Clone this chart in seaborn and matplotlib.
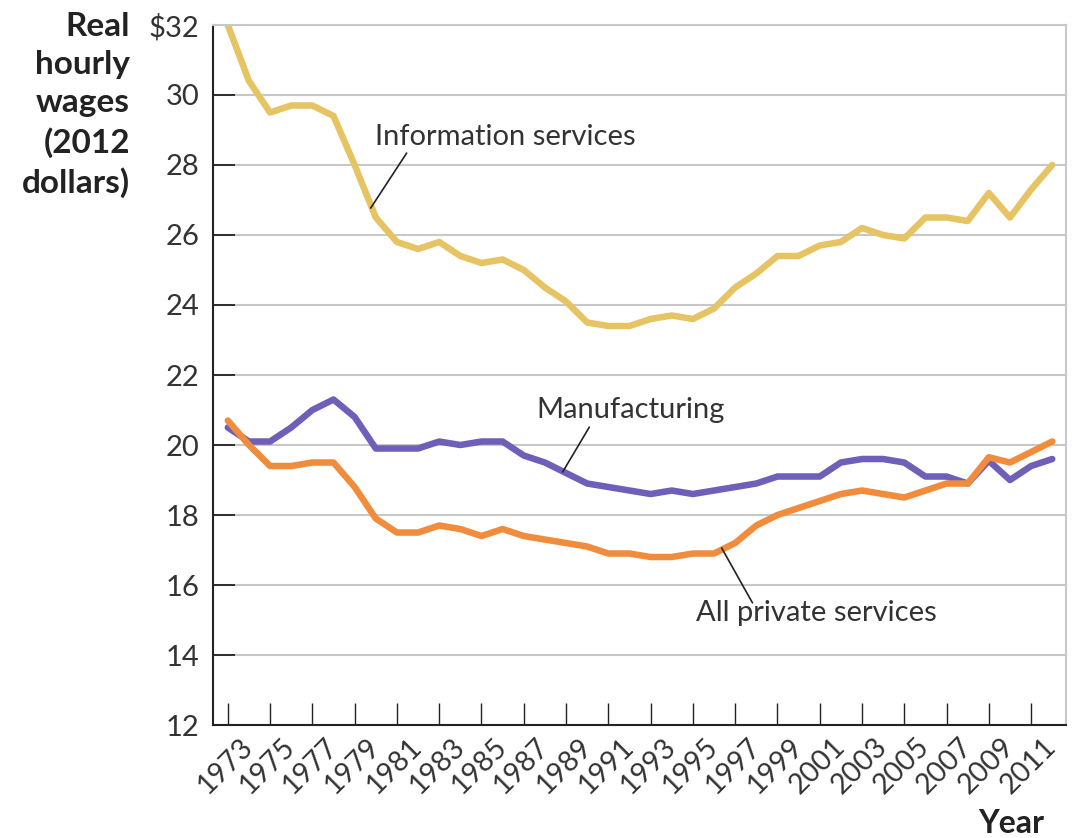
import numpy as np
import pandas as pd
import matplotlib
matplotlib.use("Agg")
import matplotlib.pyplot as plt
import matplotlib.transforms as mtransforms
import seaborn as sns

years = list(range(1973, 2013))
info_services = [32.0, 30.4, 29.5, 29.7, 29.7, 29.4, 28.0, 26.5, 25.8, 25.6,
                 25.8, 25.4, 25.2, 25.3, 25.0, 24.5, 24.1, 23.5, 23.4, 23.4,
                 23.6, 23.7, 23.6, 23.9, 24.5, 24.9, 25.4, 25.4, 25.7, 25.8,
                 26.2, 26.0, 25.9, 26.5, 26.5, 26.4, 27.2, 26.5, 27.3, 28.0]
manufacturing = [20.5, 20.1, 20.1, 20.5, 21.0, 21.3, 20.8, 19.9, 19.9, 19.9,
                 20.1, 20.0, 20.1, 20.1, 19.7, 19.5, 19.2, 18.9, 18.8, 18.7,
                 18.6, 18.7, 18.6, 18.7, 18.8, 18.9, 19.1, 19.1, 19.1, 19.5,
                 19.6, 19.6, 19.5, 19.1, 19.1, 18.9, 19.55, 19.0, 19.4, 19.6]
private_services = [20.7, 20.0, 19.4, 19.4, 19.5, 19.5, 18.8, 17.9, 17.5, 17.5,
                    17.7, 17.6, 17.4, 17.6, 17.4, 17.3, 17.2, 17.1, 16.9, 16.9,
                    16.8, 16.8, 16.9, 16.9, 17.2, 17.7, 18.0, 18.2, 18.4, 18.6,
                    18.7, 18.6, 18.5, 18.7, 18.9, 18.9, 19.65, 19.5, 19.8, 20.1]
series_names = ["Information services", "Manufacturing", "All private services"]
series_colors = ["#E6C463", "#6F5FB8", "#F08C3C"]
y_ticks = [12, 14, 16, 18, 20, 22, 24, 26, 28, 30, 32]
y_tick_labels = ["12", "14", "16", "18", "20", "22", "24", "26", "28", "30", "$32"]
x_ticks = list(range(1973, 2012, 2))

df = pd.DataFrame({
    "Year": years * 3,
    "Wage": info_services + manufacturing + private_services,
    "Series": [series_names[0]] * len(years) + [series_names[1]] * len(years)
              + [series_names[2]] * len(years),
})

sns.set_theme(style="white")
plt.rcParams["font.family"] = ["Lato", "DejaVu Sans"]

fig = plt.figure(figsize=(10.72, 8.38), dpi=100)
ax = fig.add_axes([0.1987, 0.1348, 0.7957, 0.8354])

sns.lineplot(data=df, x="Year", y="Wage", hue="Series", hue_order=series_names,
             palette=dict(zip(series_names, series_colors)), linewidth=4.7,
             legend=False, ax=ax)

ax.set_xlim(1972.3, 2012.65)
ax.set_ylim(12, 32)
ax.set_yticks(y_ticks)
ax.set_yticklabels(y_tick_labels, fontsize=21, color="#333333")
ax.set_xticks(x_ticks)
ax.set_xticklabels([str(y) for y in x_ticks], rotation=45, ha="right",
                   va="top", rotation_mode="anchor", fontsize=20.5, color="#333333")
ax.tick_params(axis="y", which="major", left=True, direction="in", length=16,
               width=1.3, color="#222222", pad=10)
ax.tick_params(axis="x", which="major", bottom=True, direction="in", length=16,
               width=1.0, color="#222222", pad=6)
offset = mtransforms.ScaledTranslation(12 / 100, 0, fig.dpi_scale_trans)
for lbl in ax.get_xticklabels():
    lbl.set_transform(lbl.get_transform() + offset)
ax.grid(axis="y", color="#C8C8C8", linewidth=1.5)
ax.grid(axis="x", visible=False)
ax.set_axisbelow(True)
ax.set_xlabel("")
ax.set_ylabel("")

for side in ["left", "bottom"]:
    ax.spines[side].set_color("#222222")
    ax.spines[side].set_linewidth(1.5)
for side in ["right", "top"]:
    ax.spines[side].set_color("#C8C8C8")
    ax.spines[side].set_linewidth(1.5)

# annotations
ax.text(1979.95, 28.8, "Information services", fontsize=21, color="#333333",
        va="center", ha="left")
ax.plot([1981.46, 1979.76], [28.34, 26.77], color="#222222", lw=1.2)
ax.text(1987.6, 21.0, "Manufacturing", fontsize=21, color="#333333",
        va="center", ha="left")
ax.plot([1990.1, 1988.84], [20.51, 19.23], color="#222222", lw=1.2)
ax.text(1995.17, 15.2, "All private services", fontsize=21, color="#333333",
        va="center", ha="left")
ax.plot([1997.82, 1996.36], [15.49, 17.06], color="#222222", lw=1.2)

fig.text(130 / 1072, 1 - 12 / 838, "Real\nhourly\nwages\n(2012\ndollars)",
         ha="right", va="top", fontsize=24, fontweight="bold", color="#222222",
         linespacing=1.38)
fig.text(1011 / 1072, 1 - 823 / 838, "Year", ha="center", va="center",
         fontsize=23, fontweight="bold", color="#222222")

fig.savefig("out.png", dpi=100)
